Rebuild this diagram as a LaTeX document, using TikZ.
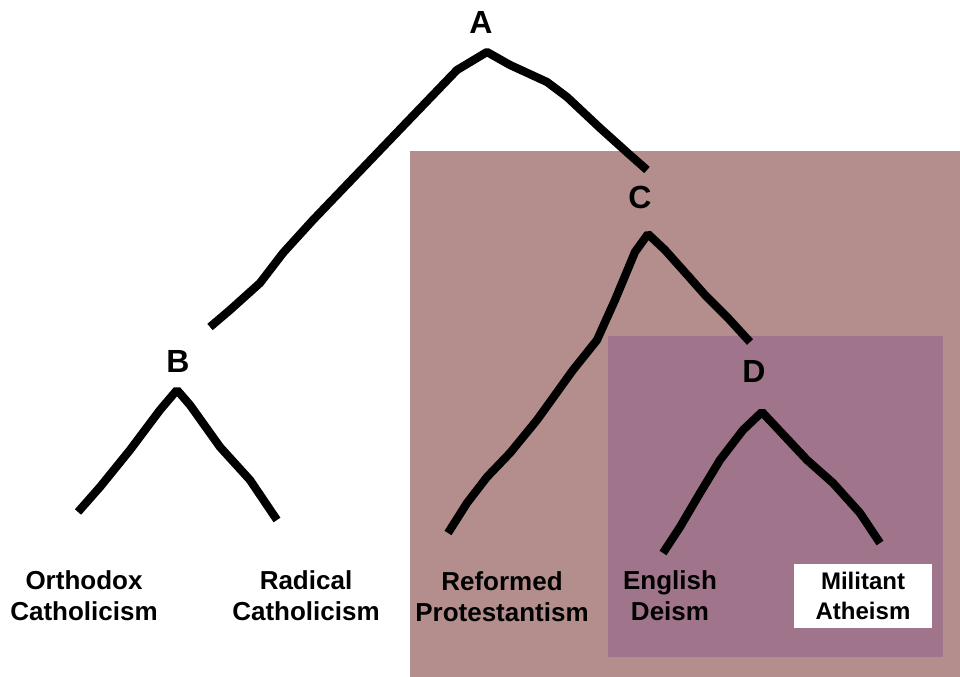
\documentclass[tikz,border=0pt]{standalone}
\usepackage{fontspec}
\setmainfont{Liberation Sans}
\definecolor{outerbox}{RGB}{180,142,140}
\definecolor{innerbox}{RGB}{160,116,138}
\begin{document}
\begin{tikzpicture}[x=0.75pt,y=-0.75pt,
  letter/.style={font=\fontsize{24}{28}\selectfont\bfseries, inner sep=0pt},
  leaf/.style={font=\fontsize{19.5}{23.5}\selectfont\bfseries, align=center, inner sep=0pt},
  branch/.style={line width=6.2pt, line join=bevel, line cap=butt}]
\useasboundingbox (0,0) rectangle (960,677);
% shaded regions
\fill[outerbox] (410,151) rectangle (960,677);
\fill[innerbox] (608,336) rectangle (943,657);
% letters
\node[letter] (A) at (481,22) {A};
\node[letter] (B) at (178,361) {B};
\node[letter] (C) at (640,197) {C};
\node[letter] (D) at (754,371) {D};
% leaves
\node[leaf] (oc) at (84,596) {Orthodox\\Catholicism};
\node[leaf] (rc) at (306,596) {Radical\\Catholicism};
\node[leaf] (rp) at (502,597) {Reformed\\Protestantism};
\node[leaf] (ed) at (670,596) {English\\Deism};
\node[leaf, font=\fontsize{18}{22}\selectfont\bfseries, fill=white,
      minimum width=103.5pt, minimum height=48pt] (ma) at (863,596) {Militant\\Atheism};
% connector ends
\coordinate (A-apex) at (487,52);
\coordinate (A-toB) at (210,327);
\coordinate (A-toC) at (647,170);
\coordinate (C-apex) at (648,234);
\coordinate (C-torp) at (448,533);
\coordinate (C-toD) at (750,342);
\coordinate (B-apex) at (177,390);
\coordinate (B-tooc) at (78,512);
\coordinate (B-torc) at (277,520);
\coordinate (D-apex) at (762,412);
\coordinate (D-toed) at (663,553);
\coordinate (D-toma) at (880,543);
% branches
\draw[branch] (A-toB) -- (230,310) -- (260,283) -- (283,253) -- (313,220) -- (407,122) -- (457,70)
  -- (A-apex) -- (510,65) -- (547,82) -- (567,97) -- (600,128) -- (630,155) -- (A-toC);
\draw[branch] (C-torp) -- (467,503) -- (487,477) -- (510,453) -- (537,420) -- (573,370) -- (597,340)
  -- (615,300) -- (635,252) -- (C-apex) -- (665,250) -- (690,278) -- (705,295) -- (728,318) -- (C-toD);
\draw[branch] (B-tooc) -- (100,487) -- (130,450) -- (160,410) -- (B-apex)
  -- (190,405) -- (220,447) -- (250,480) -- (B-torc);
\draw[branch] (D-toed) -- (680,527) -- (700,493) -- (720,460) -- (743,430) -- (D-apex)
  -- (807,460) -- (833,483) -- (860,513) -- (D-toma);
\end{tikzpicture}
\end{document}
